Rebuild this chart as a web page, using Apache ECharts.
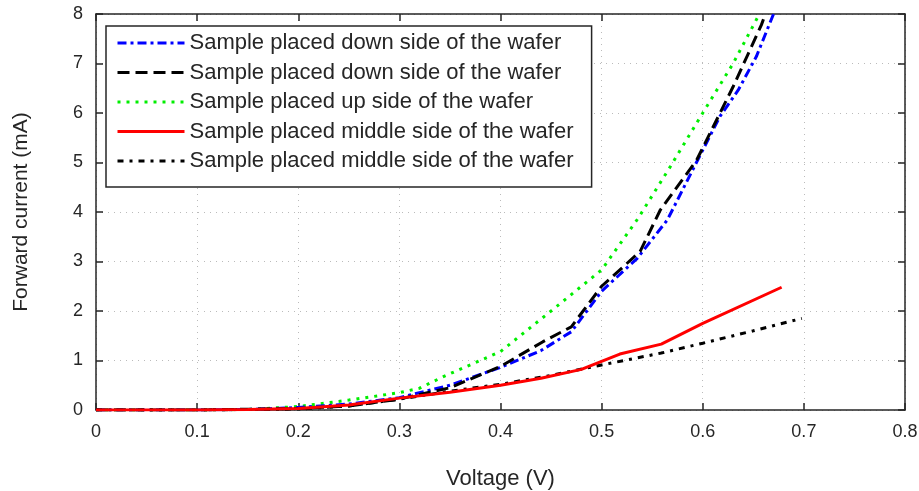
<!DOCTYPE html>
<html><head><meta charset="utf-8">
<script src="https://cdn.jsdelivr.net/npm/echarts@6/dist/echarts.min.js"></script>
<style>html,body{margin:0;padding:0;background:#fff}#c{width:919px;height:491px}</style>
</head><body><div id="c"></div>
<script>
const xTicks = [0, 0.1, 0.2, 0.3, 0.4, 0.5, 0.6, 0.7, 0.8];
const yTicks = [0, 1, 2, 3, 4, 5, 6, 7, 8];
const names = [
  'Sample placed down side of the wafer',
  'Sample placed down side of the wafer ',
  'Sample placed up side of the wafer',
  'Sample placed middle side of the wafer',
  'Sample placed middle side of the wafer '
];
const blueDown = [[0,0],[0.1,0],[0.15,0.01],[0.2,0.05],[0.25,0.12],[0.3,0.25],[0.35,0.5],[0.4,0.86],[0.44,1.2],[0.47,1.58],[0.5,2.4],[0.535,3.06],[0.565,3.84],[0.595,5.05],[0.617,5.93],[0.635,6.46],[0.653,7.14],[0.67,8.0]];
const blackDown = [[0,0],[0.1,0],[0.2,0.03],[0.25,0.08],[0.3,0.22],[0.35,0.45],[0.4,0.88],[0.442,1.38],[0.47,1.68],[0.5,2.5],[0.538,3.2],[0.558,4.04],[0.594,5.05],[0.63,6.53],[0.658,7.78],[0.662,8.0]];
const greenUp = [[0,0],[0.1,0],[0.15,0.01],[0.2,0.07],[0.25,0.2],[0.3,0.35],[0.32,0.44],[0.343,0.67],[0.4,1.18],[0.45,2.0],[0.5,2.83],[0.536,3.87],[0.568,4.92],[0.6,6.0],[0.63,7.0],[0.656,8.0]];
const redMiddle = [[0,0],[0.1,0],[0.15,0.01],[0.2,0.03],[0.25,0.1],[0.3,0.24],[0.35,0.36],[0.4,0.5],[0.44,0.64],[0.48,0.82],[0.518,1.13],[0.559,1.33],[0.6,1.75],[0.678,2.48]];
const blackMiddle = [[0,0],[0.1,0],[0.2,0.02],[0.25,0.08],[0.3,0.22],[0.35,0.38],[0.4,0.52],[0.45,0.7],[0.5,0.91],[0.559,1.15],[0.6,1.35],[0.65,1.6],[0.698,1.85]];

const font = 'Liberation Sans, Arial, sans-serif';
const txt = '#262626';
const chart = echarts.init(document.getElementById('c'));
function ser(name, data, color, type, z) {
  return { name, type: 'line', data, showSymbol: false, symbol: 'none', z,
    lineStyle: { color, width: 3, type, cap: 'butt' }, itemStyle: { color }, animation: false };
}
chart.setOption({
  animation: false,
  grid: { left: 96, right: 14, top: 14, bottom: 81, outerBoundsMode: 'none', containLabel: false },
  legend: {
    orient: 'vertical', left: 106, top: 26, padding: [6, 12, 15, 10],
    itemWidth: 67, itemHeight: 14, itemGap: 7.5,
    backgroundColor: '#fff', borderColor: txt, borderWidth: 1.5,
    itemStyle: { color: 'rgba(0,0,0,0)', borderColor: 'rgba(0,0,0,0)', borderWidth: 0 },
    lineStyle: { width: 3 },
    textStyle: { fontFamily: font, fontSize: 22, lineHeight: 22, color: txt },
    data: names
  },
  xAxis: [{
    type: 'value', min: 0, max: 0.8, interval: 0.1,
    name: 'Voltage (V)', nameLocation: 'middle', nameGap: 58,
    nameTextStyle: { fontFamily: font, fontSize: 22, color: txt },
    axisLine: { show: true, onZero: false, lineStyle: { color: txt, width: 1.5 } },
    axisTick: { inside: true, length: 7, lineStyle: { color: txt, width: 1.5 } },
    axisLabel: { fontFamily: font, fontSize: 18, color: txt, margin: 13, formatter: v => String(+v.toFixed(1)) },
    splitLine: { show: true, lineStyle: { color: '#bbb', type: [1, 5], width: 1 } }
  }, {
    type: 'value', position: 'top', min: 0, max: 0.8, interval: 0.1,
    axisLine: { show: true, onZero: false, lineStyle: { color: txt, width: 1.5 } },
    axisTick: { inside: true, length: 7, lineStyle: { color: txt, width: 1.5 } },
    axisLabel: { show: false }, splitLine: { show: false }
  }],
  yAxis: [{
    type: 'value', min: 0, max: 8, interval: 1,
    name: 'Forward current (mA)', nameLocation: 'middle', nameGap: 64, nameRotate: 90,
    nameTextStyle: { fontFamily: font, fontSize: 21, color: txt },
    axisLine: { show: true, onZero: false, lineStyle: { color: txt, width: 1.5 } },
    axisTick: { show: true, inside: true, length: 7, lineStyle: { color: txt, width: 1.5 } },
    axisLabel: { fontFamily: font, fontSize: 18, color: txt, margin: 13 },
    splitLine: { show: true, lineStyle: { color: '#bbb', type: [1, 5], width: 1 } }
  }, {
    type: 'value', position: 'right', min: 0, max: 8, interval: 1,
    axisLine: { show: true, onZero: false, lineStyle: { color: txt, width: 1.5 } },
    axisTick: { show: true, inside: true, length: 7, lineStyle: { color: txt, width: 1.5 } },
    axisLabel: { show: false }, splitLine: { show: false }
  }],
  series: [
    ser(names[0], blueDown, '#0000ff', [9, 4, 3, 4], 3),
    ser(names[1], blackDown, '#000000', [12, 6], 4),
    ser(names[2], greenUp, '#00ee00', [3, 6], 2),
    ser(names[3], redMiddle, '#ff0000', 'solid', 6),
    ser(names[4], blackMiddle, '#000000', [6, 6, 3, 6], 5)
  ]
});
</script></body></html>
